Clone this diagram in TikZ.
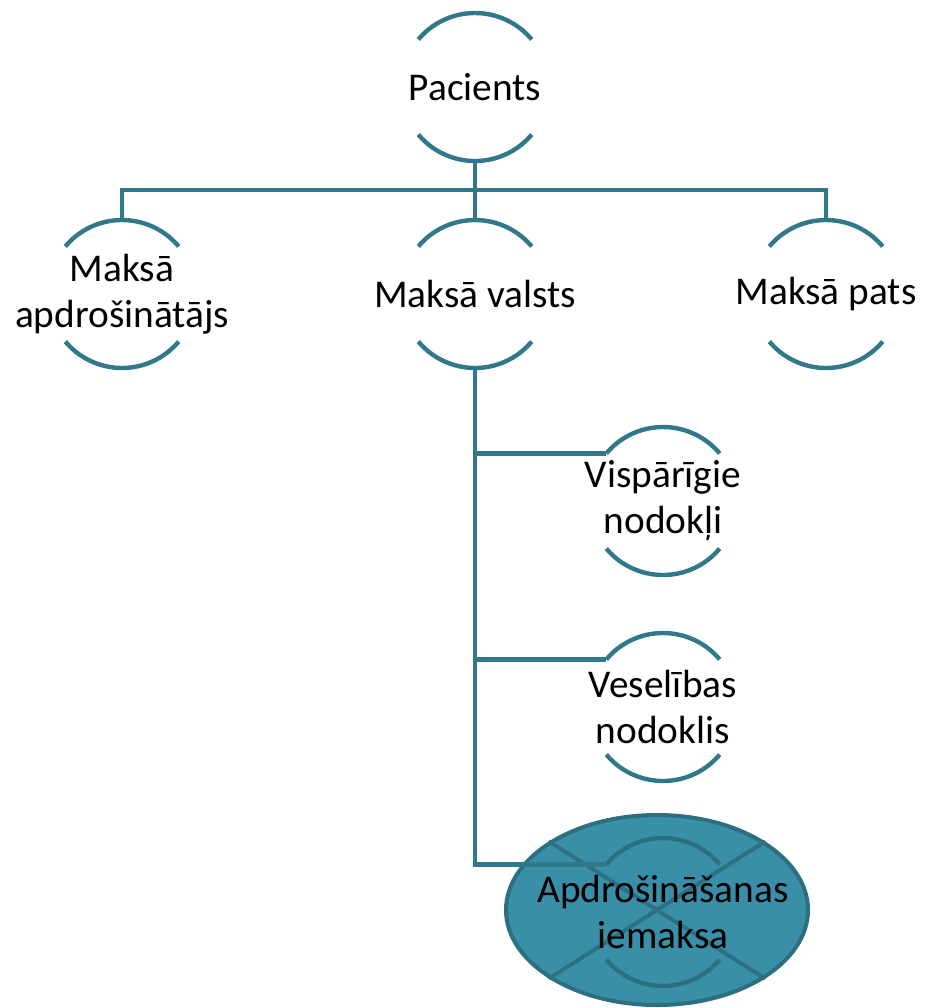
\documentclass[tikz,border=0pt]{standalone}
\usepackage{fontspec}
\setmainfont{Carlito}
\usetikzlibrary{shapes.geometric}
\definecolor{lnc}{HTML}{31788A}
\definecolor{elfill}{HTML}{3A8FA8}
\definecolor{eldraw}{HTML}{2C6F80}
\definecolor{xline}{HTML}{2E7083}
\tikzset{
  ring/.style={circle, minimum size=111pt, inner sep=0pt, outer sep=0pt},
  txt/.style={align=center, inner sep=0pt, font=\fontsize{29.5}{34.5}\selectfont},
  arcline/.style={draw=lnc, line width=3.3pt},
  conn/.style={draw=lnc, line width=3.3pt},
  hlnode/.style={ellipse, minimum width=226.5pt, minimum height=142.5pt, inner sep=0pt,
    fill=elfill, draw=eldraw, line width=3pt},
}
\newcommand{\arcsof}[2][lnc]{%
  \draw[arcline, draw=#1] (#2.140) arc[start angle=140, end angle=40, radius=55.5pt];
  \draw[arcline, draw=#1] (#2.220) arc[start angle=220, end angle=320, radius=55.5pt];
}
\begin{document}
\begin{tikzpicture}[x=0.75pt, y=-0.75pt]
\useasboundingbox (0,0) rectangle (926,1008);
% rings
\node[ring] (pac) at (475,87) {};
\node[ring] (apd) at (122,294) {};
\node[ring] (val) at (475,294) {};
\node[ring] (pat) at (826,294) {};
\node[ring] (vis) at (663,501) {};
\node[ring] (ves) at (663,707) {};
% highlighted node
\node[hlnode] (apE) at (657,910) {};
\draw[xline, line width=3pt] (apE.north west) -- (apE.south east);
\draw[xline, line width=3pt] (apE.north east) -- (apE.south west);
\node[ring] (ap) at (663,912) {};
\arcsof[eldraw]{ap}
\foreach \n in {pac,apd,val,pat,vis,ves} {\arcsof{\n}}
% texts
\node[txt] (pacT) at (pac) {Pacients};
\node[txt] (apdT) at (apd) {Maksā\\apdrošinātājs};
\node[txt] (valT) at (val) {Maksā valsts};
\node[txt] (patT) at (pat) {Maksā pats};
\node[txt] (visT) at (vis) {Vispārīgie\\nodokļi};
\node[txt] (vesT) at (ves) {Veselības\\nodoklis};
\node[txt] (apT) at (ap) {Apdrošināšanas\\iemaksa};
% connectors
\coordinate (hb) at (475,190);
\draw[conn] (pac.south) -- (hb);
\draw[conn, line cap=rect] (apd.north) |- (pat.north |- hb) -- (pat.north);
\draw[conn] (hb) -- (val.north);
\draw[conn] (val.south) -- (val.south |- ap.140) -- (ap.140);
\draw[conn] (val.south |- vis.140) -- (vis.140);
\draw[conn] (val.south |- ves.140) -- (ves.140);
\end{tikzpicture}
\end{document}
